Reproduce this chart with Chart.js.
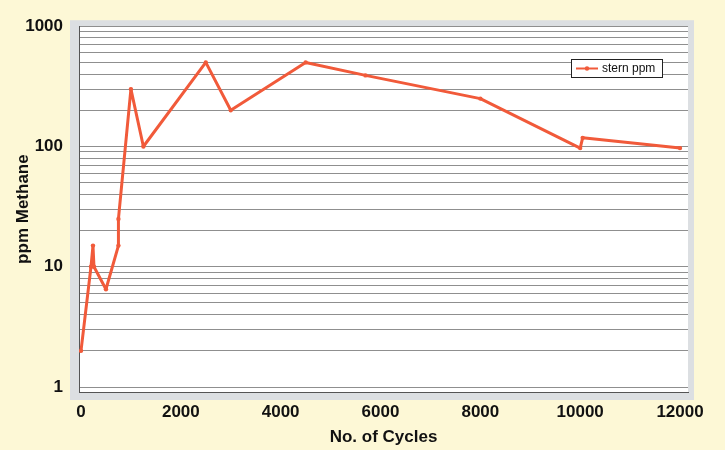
<!DOCTYPE html>
<html>
<head>
<meta charset="utf-8">
<script src="https://cdn.jsdelivr.net/npm/chart.js@4/dist/chart.umd.min.js"></script>
<style>
  html, body { margin: 0; padding: 0; background: #fdf8d6; }
  #wrap { width: 725px; height: 450px; }
</style>
</head>
<body>
<div id="wrap"><canvas id="Chart" width="725" height="450"></canvas></div>
<script>
const seriesLabel = "stern ppm";
const cycles = [0, 200, 240, 260, 500, 750, 750, 1000, 1250, 2500, 3000, 4500, 5700, 8000, 10000, 10050, 12000];
const ppm = [2, 10, 15, 10, 6.5, 15, 25, 300, 100, 500, 200, 500, 390, 250, 97, 118, 97];
const xTicks = [0, 2000, 4000, 6000, 8000, 10000, 12000];
const yDecades = [1, 10, 100, 1000];

const lineColor = "#f15a3a";

// gray frame + white plot, and the boxed legend inside the plot
const framePlugin = {
  id: "frame",
  beforeDraw(chart) {
    const { ctx, chartArea: a } = chart;
    ctx.save();
    ctx.fillStyle = "#dcdfe2";
    ctx.fillRect(a.left - 9, a.top - 6, a.right - a.left + 15, a.bottom - a.top + 14);
    ctx.fillStyle = "#ffffff";
    ctx.fillRect(a.left, a.top, a.right - a.left, a.bottom - a.top);
    ctx.restore();
  },
  afterDraw(chart) {
    const { ctx } = chart;
    const ds = chart.data.datasets[0];
    const x = 571, y = 59, w = 91, h = 18;
    ctx.save();
    ctx.fillStyle = "#ffffff";
    ctx.fillRect(x, y, w, h);
    ctx.strokeStyle = "#222";
    ctx.lineWidth = 1;
    ctx.strokeRect(x + 0.5, y + 0.5, w, h);
    ctx.strokeStyle = ds.borderColor;
    ctx.lineWidth = 2;
    ctx.beginPath();
    ctx.moveTo(x + 5, y + 9.5);
    ctx.lineTo(x + 27, y + 9.5);
    ctx.stroke();
    ctx.fillStyle = ds.borderColor;
    ctx.beginPath();
    ctx.arc(x + 16, y + 9.5, 2.2, 0, Math.PI * 2);
    ctx.fill();
    ctx.fillStyle = "#111";
    ctx.font = "12px 'Liberation Sans', Arial, sans-serif";
    ctx.textBaseline = "middle";
    ctx.fillText(ds.label, x + 31, y + 9.5);
    ctx.restore();
  }
};

new Chart("Chart", {
  type: "line",
  data: {
    datasets: [
      {
        label: seriesLabel,
        data: cycles.map((c, i) => ({ x: c, y: ppm[i] })),
        borderColor: lineColor,
        backgroundColor: lineColor,
        borderWidth: 3,
        borderJoinStyle: "round",
        borderCapStyle: "round",
        pointRadius: 2.2,
        pointBorderWidth: 0,
        tension: 0,
        fill: false,
      },
    ],
  },
  options: {
    responsive: false,
    animation: false,
    layout: { padding: { top: 18, right: 37, left: 0, bottom: 0 } },
    plugins: {
      legend: { display: false },
      tooltip: { enabled: false },
    },
    scales: {
      x: {
        type: "linear",
        min: -40,
        max: 12160,
        afterBuildTicks: (scale) => {
          scale.ticks = xTicks.map((v) => ({ value: v }));
        },
        afterFit: (scale) => { scale.height = 58; },
        grid: { display: false, drawTicks: false },
        border: { display: true, color: "#555", width: 1 },
        ticks: {
          color: "#111",
          padding: 10,
          maxRotation: 0,
          font: { family: "'Liberation Sans', Arial, sans-serif", size: 17, weight: "bold" },
          callback: (v) => String(v),
        },
        title: {
          display: true,
          text: "No. of Cycles",
          color: "#111",
          padding: { top: 0, bottom: 2 },
          font: { family: "'Liberation Sans', Arial, sans-serif", size: 17, weight: "bold" },
        },
      },
      y: {
        type: "logarithmic",
        min: 0.91,
        max: 1000,
        afterBuildTicks: (scale) => {
          const t = [];
          for (let d = 1; d < 1000; d *= 10) {
            for (let m = 1; m < 10; m++) t.push({ value: d * m });
          }
          t.push({ value: 1000 });
          scale.ticks = t;
        },
        afterFit: (scale) => { scale.width = 79; },
        grid: { color: "#8f8f8f", lineWidth: 1, drawTicks: false },
        border: { display: true, color: "#555", width: 1 },
        ticks: {
          color: "#111",
          padding: 16,
          autoSkip: false,
          font: { family: "'Liberation Sans', Arial, sans-serif", size: 17, weight: "bold" },
          callback: (v) => (yDecades.includes(v) ? String(v) : ""),
        },
        title: {
          display: true,
          text: "ppm Methane",
          color: "#111",
          padding: { top: 13, bottom: 0 },
          font: { family: "'Liberation Sans', Arial, sans-serif", size: 17, weight: "bold" },
        },
      },
    },
  },
  plugins: [framePlugin],
});
</script>
</body>
</html>
